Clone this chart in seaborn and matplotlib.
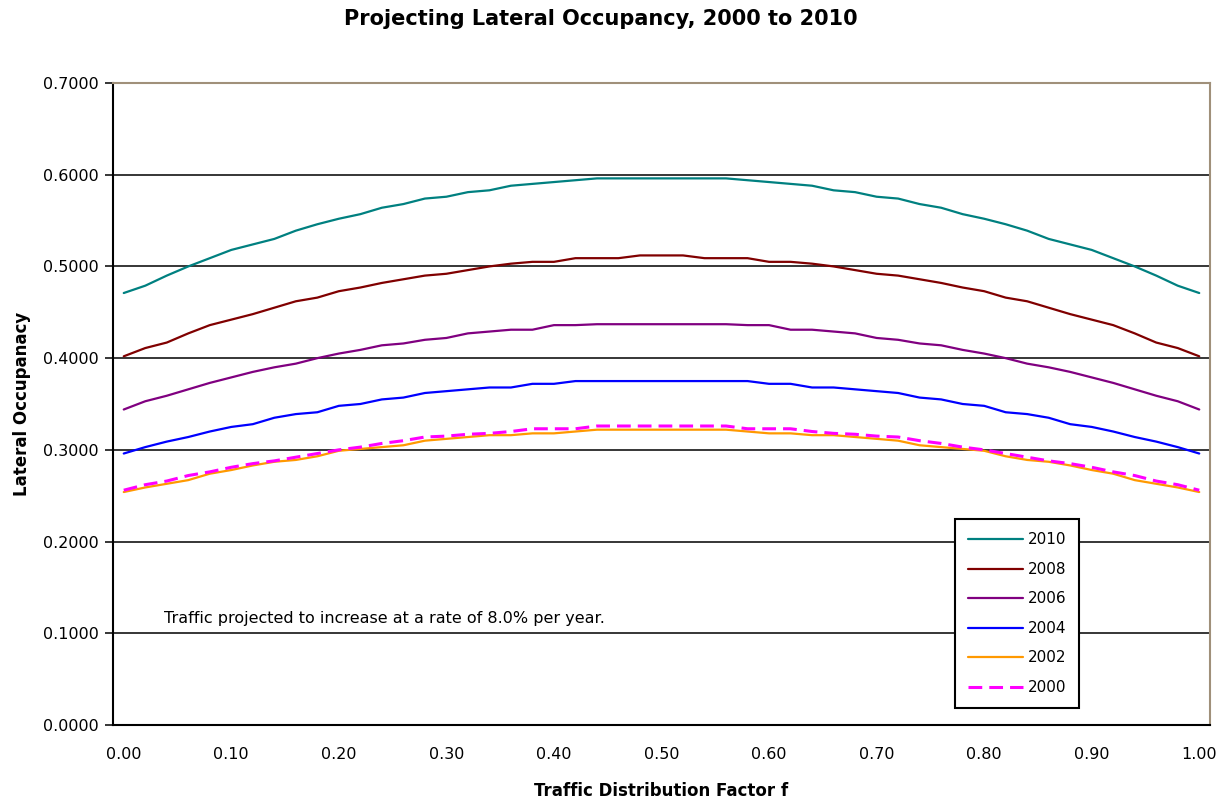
import numpy as np
import pandas as pd
import matplotlib
matplotlib.use("Agg")
import matplotlib.pyplot as plt
import seaborn as sns

# Traffic distribution factor f (category axis, 0.00 .. 1.00 step 0.02)
f_values = [round(0.02 * i, 2) for i in range(51)]

occ_2010 = [0.471, 0.479, 0.490, 0.500, 0.509, 0.518, 0.524, 0.530, 0.539, 0.546,
            0.552, 0.557, 0.564, 0.568, 0.574, 0.576, 0.581, 0.583, 0.588, 0.590,
            0.592, 0.594, 0.596, 0.596, 0.596, 0.596, 0.596, 0.596, 0.596, 0.594,
            0.592, 0.590, 0.588, 0.583, 0.581, 0.576, 0.574, 0.568, 0.564, 0.557,
            0.552, 0.546, 0.539, 0.530, 0.524, 0.518, 0.509, 0.500, 0.490, 0.479,
            0.471]
occ_2008 = [0.402, 0.411, 0.417, 0.427, 0.436, 0.442, 0.448, 0.455, 0.462, 0.466,
            0.473, 0.477, 0.482, 0.486, 0.490, 0.492, 0.496, 0.500, 0.503, 0.505,
            0.505, 0.509, 0.509, 0.509, 0.512, 0.512, 0.512, 0.509, 0.509, 0.509,
            0.505, 0.505, 0.503, 0.500, 0.496, 0.492, 0.490, 0.486, 0.482, 0.477,
            0.473, 0.466, 0.462, 0.455, 0.448, 0.442, 0.436, 0.427, 0.417, 0.411,
            0.402]
occ_2006 = [0.344, 0.353, 0.359, 0.366, 0.373, 0.379, 0.385, 0.390, 0.394, 0.400,
            0.405, 0.409, 0.414, 0.416, 0.420, 0.422, 0.427, 0.429, 0.431, 0.431,
            0.436, 0.436, 0.437, 0.437, 0.437, 0.437, 0.437, 0.437, 0.437, 0.436,
            0.436, 0.431, 0.431, 0.429, 0.427, 0.422, 0.420, 0.416, 0.414, 0.409,
            0.405, 0.400, 0.394, 0.390, 0.385, 0.379, 0.373, 0.366, 0.359, 0.353,
            0.344]
occ_2004 = [0.296, 0.303, 0.309, 0.314, 0.320, 0.325, 0.328, 0.335, 0.339, 0.341,
            0.348, 0.350, 0.355, 0.357, 0.362, 0.364, 0.366, 0.368, 0.368, 0.372,
            0.372, 0.375, 0.375, 0.375, 0.375, 0.375, 0.375, 0.375, 0.375, 0.375,
            0.372, 0.372, 0.368, 0.368, 0.366, 0.364, 0.362, 0.357, 0.355, 0.350,
            0.348, 0.341, 0.339, 0.335, 0.328, 0.325, 0.320, 0.314, 0.309, 0.303,
            0.296]
occ_2002 = [0.254, 0.259, 0.263, 0.267, 0.274, 0.278, 0.283, 0.287, 0.289, 0.293,
            0.299, 0.301, 0.303, 0.305, 0.310, 0.312, 0.314, 0.316, 0.316, 0.318,
            0.318, 0.320, 0.322, 0.322, 0.322, 0.322, 0.322, 0.322, 0.322, 0.320,
            0.318, 0.318, 0.316, 0.316, 0.314, 0.312, 0.310, 0.305, 0.303, 0.301,
            0.299, 0.293, 0.289, 0.287, 0.283, 0.278, 0.274, 0.267, 0.263, 0.259,
            0.254]
occ_2000 = [0.256, 0.262, 0.266, 0.272, 0.276, 0.281, 0.285, 0.288, 0.292, 0.296,
            0.300, 0.303, 0.307, 0.310, 0.314, 0.315, 0.317, 0.318, 0.320, 0.323,
            0.323, 0.323, 0.326, 0.326, 0.326, 0.326, 0.326, 0.326, 0.326, 0.323,
            0.323, 0.323, 0.320, 0.318, 0.317, 0.315, 0.314, 0.310, 0.307, 0.303,
            0.300, 0.296, 0.292, 0.288, 0.285, 0.281, 0.276, 0.272, 0.266, 0.262,
            0.256]

years = ["2010", "2008", "2006", "2004", "2002", "2000"]
series = [occ_2010, occ_2008, occ_2006, occ_2004, occ_2002, occ_2000]
colors = {"2010": "#008080", "2008": "#800000", "2006": "#800080",
          "2004": "#0000FF", "2002": "#FF9900", "2000": "#FF00FF"}

df = pd.DataFrame({
    "f": f_values * len(years),
    "occ": [v for s in series for v in s],
    "year": [y for y in years for _ in f_values],
})

sns.set_style("white")
plt.rcParams['font.family'] = ['DejaVu Sans']
plt.rcParams['text.color'] = 'black'
plt.rcParams['axes.labelcolor'] = 'black'
plt.rcParams['xtick.color'] = 'black'
plt.rcParams['ytick.color'] = 'black'

fig = plt.figure(figsize=(12.27, 8.05), dpi=100)
ax = fig.add_axes([113 / 1227, 1 - 725 / 805, 1097 / 1227, 642 / 805])

for yr in years:
    sub = df[df["year"] == yr]
    if yr == "2000":
        sns.lineplot(data=sub, x="f", y="occ", ax=ax, color=colors[yr], lw=2.2,
                     label=yr, linestyle=(0, (4.5, 2.3)))
    else:
        sns.lineplot(data=sub, x="f", y="occ", ax=ax, color=colors[yr], lw=1.6,
                     label=yr)

ax.set_xlim(-0.01, 1.01)
ax.set_ylim(0, 0.7)

# y axis
yt = np.arange(0, 0.71, 0.1)
ax.set_yticks(yt)
ax.set_yticklabels([f"{v:.4f}" for v in yt], fontsize=11.5)
ax.yaxis.grid(True, color="black", lw=1.1)
ax.xaxis.grid(False)

# x axis: labels at category centres, tick marks between categories
xt = np.arange(0, 1.01, 0.1)
ax.set_xticks(xt)
ax.set_xticklabels([f"{v:.2f}" for v in xt], fontsize=11.5)
ax.set_xticks(np.arange(-0.01, 1.0, 0.1), minor=True)
ax.tick_params(axis="x", which="major", length=0, pad=16)
ax.tick_params(axis="x", which="minor", length=6, width=1.1, color="black",
               direction="out")
ax.tick_params(axis="y", length=6, width=1.1, color="black", direction="out",
               left=True, pad=4)

for side in ["left", "bottom"]:
    ax.spines[side].set_color("black")
    ax.spines[side].set_linewidth(1.5)
for side in ["top", "right"]:
    ax.spines[side].set_color("#A0907A")
    ax.spines[side].set_linewidth(1.5)

ax.set_xlabel("Traffic Distribution Factor f", fontsize=12, fontweight="bold",
              labelpad=14)
ax.set_ylabel("Lateral Occupanacy", fontsize=12, fontweight="bold", labelpad=9)
fig.text(601 / 1227, 1 - 19 / 805, "Projecting Lateral Occupancy, 2000 to 2010",
         fontsize=15, fontweight="bold", ha="center", va="center")

ax.text(0.037, 0.1166, "Traffic projected to increase at a rate of 8.0% per year.",
        fontsize=11.5, va="center", ha="left")

leg = ax.legend(loc="lower left", bbox_to_anchor=(0.7675, 0.0265), fontsize=11,
                frameon=True, fancybox=False, edgecolor="black", framealpha=1,
                handlelength=3.6, handletextpad=0.3, labelspacing=0.95,
                borderpad=0.85, borderaxespad=0)
leg.get_frame().set_linewidth(1.5)

fig.savefig("out.png", dpi=100)
